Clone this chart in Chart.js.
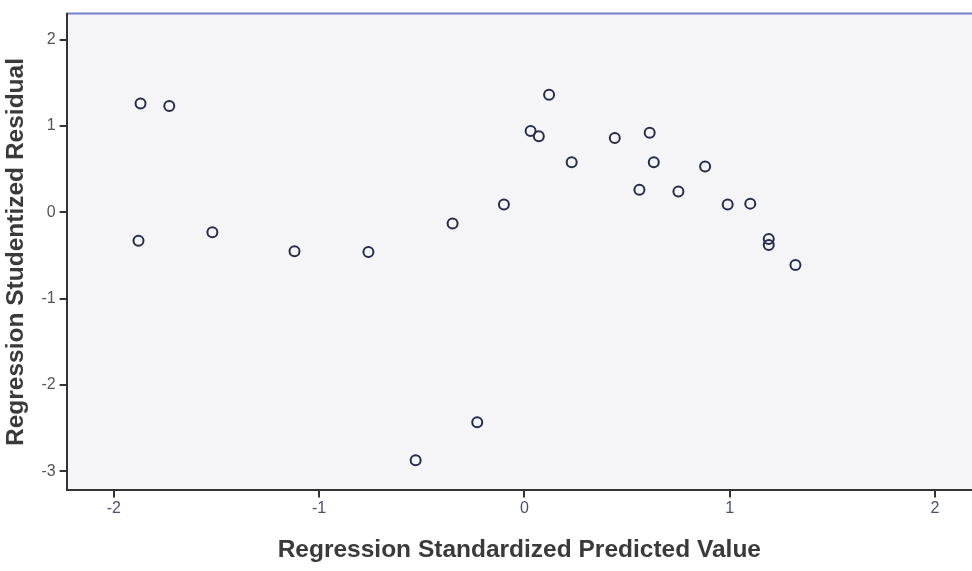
<!DOCTYPE html>
<html>
<head>
<meta charset="utf-8">
<script src="https://cdn.jsdelivr.net/npm/chart.js@4"></script>
<style>
  html, body { margin: 0; padding: 0; background: #fff; }
  #wrap { width: 972px; height: 571px; }
</style>
</head>
<body>
<div id="wrap"><canvas id="resid"></canvas></div>
<script>
// standardized predicted value (x) and studentized residual (y)
const predicted = [-1.87, -1.73, -1.88, -1.52, -1.12, -0.76, -0.35, -0.10, -0.23, -0.53,
  0.03, 0.07, 0.12, 0.23, 0.44, 0.61, 0.63, 0.56, 0.75, 0.88, 0.99, 1.10, 1.19, 1.19, 1.32]
const residual = [1.26, 1.23, -0.33, -0.23, -0.45, -0.46, -0.13, 0.09, -2.43, -2.87,
  0.94, 0.88, 1.36, 0.58, 0.86, 0.92, 0.58, 0.26, 0.24, 0.53, 0.09, 0.10, -0.31, -0.38, -0.61]
const xTicks = [-2, -1, 0, 1, 2]
const yTicks = [-3, -2, -1, 0, 1, 2]

const points = predicted.map((v, i) => ({ x: v, y: residual[i] }))

const plotBg = {
  id: 'plotBg',
  beforeDraw(chart) {
    const { ctx, chartArea: a } = chart
    ctx.save()
    ctx.fillStyle = '#f5f5f8'
    ctx.fillRect(a.left, a.top, a.right - a.left, a.bottom - a.top)
    ctx.strokeStyle = '#7380cc'
    ctx.lineWidth = 2
    ctx.beginPath()
    ctx.moveTo(a.left, a.top)
    ctx.lineTo(a.right, a.top)
    ctx.stroke()
    ctx.restore()
  }
}

new Chart(document.getElementById('resid'), {
  type: 'scatter',
  data: {
    datasets: [{
      label: 'Residuals',
      data: points,
      pointStyle: 'circle',
      pointRadius: 5,
      pointHoverRadius: 5,
      borderWidth: 2,
      borderColor: '#262c4c',
      backgroundColor: 'rgba(0,0,0,0)'
    }]
  },
  options: {
    responsive: true,
    maintainAspectRatio: false,
    animation: false,
    layout: { autoPadding: false, padding: { left: 2, right: 0, top: 12, bottom: 6 } },
    plugins: { legend: { display: false }, tooltip: { enabled: false } },
    scales: {
      x: {
        type: 'linear',
        min: -2.23,
        max: 2.18,
        afterBuildTicks: s => { s.ticks = xTicks.map(v => ({ value: v })) },
        grid: { drawOnChartArea: false, drawTicks: true, tickLength: 7, color: '#333', lineWidth: 2 },
        border: { color: '#333', width: 2 },
        ticks: { color: '#4a5070', font: { family: 'Liberation Sans', size: 16 }, padding: 2, maxRotation: 0 },
        title: {
          display: true,
          text: 'Regression Standardized Predicted Value',
          color: '#3a3a3a',
          font: { family: 'Liberation Sans', size: 24.5, weight: 'bold' },
          padding: { top: 15, bottom: 0 }
        }
      },
      y: {
        type: 'linear',
        min: -3.22,
        max: 2.3,
        afterBuildTicks: s => { s.ticks = yTicks.map(v => ({ value: v })) },
        grid: { drawOnChartArea: false, drawTicks: true, tickLength: 7, color: '#333', lineWidth: 2 },
        border: { color: '#333', width: 2 },
        ticks: { color: '#555', font: { family: 'Liberation Sans', size: 16 }, padding: 4 },
        title: {
          display: true,
          text: 'Regression Studentized Residual',
          color: '#3a3a3a',
          font: { family: 'Liberation Sans', size: 24.5, weight: 'bold' },
          padding: { top: 0, bottom: 6 }
        }
      }
    }
  },
  plugins: [plotBg]
})
</script>
</body>
</html>
